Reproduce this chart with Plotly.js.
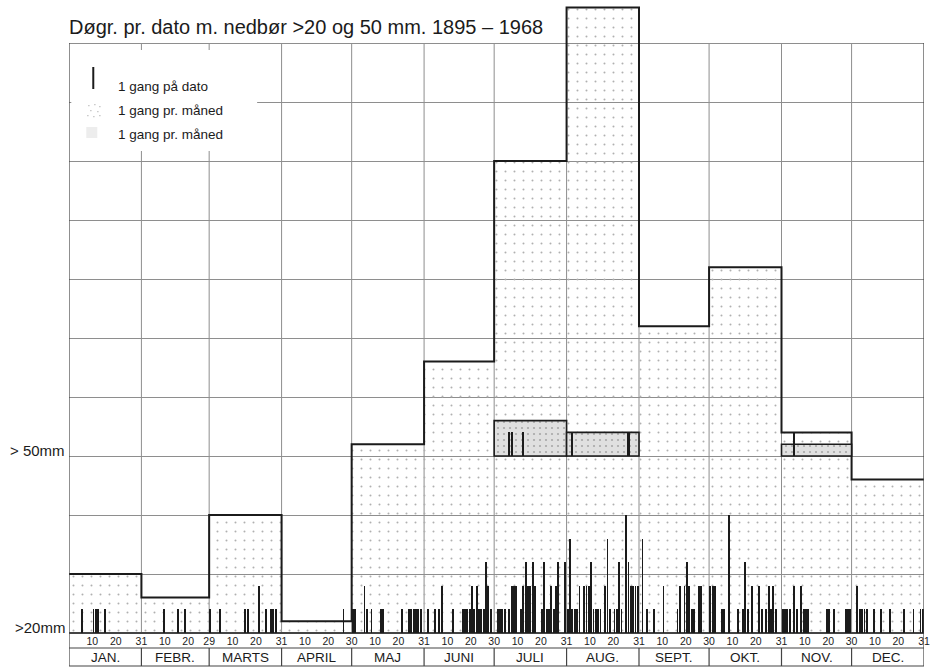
<!DOCTYPE html>
<html><head><meta charset="utf-8">
<script src="https://cdn.plot.ly/plotly-3.0.1.min.js"></script>
<style>html,body{margin:0;padding:0;background:#fff}#chart{width:933px;height:668px}</style>
</head><body><div id="chart"></div>
<script>
// ---------------- data ----------------
const monthNames = ['JAN.','FEBR.','MARTS','APRIL','MAJ','JUNI','JULI','AUG.','SEPT.','OKT.','NOV.','DEC.'];
const monthDays  = [31,29,31,30,31,30,31,31,30,31,30,31];
// days per month with > 20 mm (1 unit = 1 occurrence per month)
const monthly20  = [5,3,10,1,16,23,40,53,26,31,17,13];
// days per month with > 50 mm
const monthly50  = [0,0,0,0,0,0,3,2,0,0,1,0];
// day-of-year with > 20 mm and number of occurrences on that date
const day20 = [6,11,12,13,16,
  41,47,50,
  61,65,76,77,82,85,87,88,89,
  118,
  122,123,127,128,130,134,135,143,146,147,148,149,150,151,
  154,157,159,160,165,169,170,171,172,173,174,175,176,177,178,179,180,181,
  184,185,186,187,189,190,191,192,194,195,196,197,198,199,200,203,204,205,206,207,208,209,210,213,
  214,215,216,217,218,219,221,222,223,224,225,226,227,228,230,231,232,234,235,236,237,239,240,241,242,243,244,
  246,248,251,255,261,262,264,265,266,267,268,270,271,
  275,276,277,280,281,283,287,289,290,291,293,296,297,299,300,301,302,303,
  306,307,308,309,311,312,314,315,316,317,325,326,328,333,334,335,
  338,339,340,341,342,345,348,352,358,362,365,366];
const count20 = [1,1,1,1,1,
  1,1,1,
  1,1,1,1,2,1,1,1,1,
  1,
  1,1,2,1,1,1,1,1,1,1,1,1,1,1,
  1,1,1,2,1,1,1,1,1,2,1,2,1,1,1,3,2,1,
  1,1,1,1,1,2,2,2,1,2,3,2,2,3,2,1,3,1,1,2,1,2,3,3,
  1,4,1,1,1,2,2,2,2,3,1,1,1,1,2,4,1,1,1,3,1,5,3,2,2,2,2,
  4,1,1,2,1,2,2,3,2,1,1,2,2,
  2,2,2,1,1,5,1,1,3,1,2,2,1,1,2,1,2,1,
  1,1,1,1,2,1,2,1,1,1,1,1,1,1,1,1,
  2,1,1,1,1,1,1,1,1,1,1,1];
// day-of-year with > 50 mm
const day50   = [189,190,195,216,240,311];
const count50 = [1,1,1,1,1,1];
const dayTickLabels = ['10','20'];

// ---------------- geometry / scales ----------------
const W = 933, H = 668;
const L = 68.7, R = W - 924.5, T = 5, B = H - 633;
const plotW = W - L - R, plotH = H - T - B;
const yMax = 53.22;      // monthly units shown (1 grid = 5)
const gridTop = 50;
const base50 = 15;       // >50 mm baseline level
const pyP = p => (H - B - p) / plotH;   // pixel y -> paper
const pxP = p => (p - L) / plotW;       // pixel x -> paper

const starts = []; let acc = 0;
monthDays.forEach(d => { starts.push(acc); acc += d; });
const totalDays = acc;
const bounds = starts.concat([totalDays]);
const mids = starts.map((s, i) => s + monthDays[i] / 2);

const tickvals = [], ticktext = [];
starts.forEach((s, i) => {
  dayTickLabels.forEach(t => { tickvals.push(s + Number(t)); ticktext.push(t); });
  tickvals.push(s + monthDays[i]); ticktext.push(String(monthDays[i]));
});

const ink = '#1b1b1b';
const gridC = '#8e8e8e';
const font = 'Liberation Sans, Arial, Helvetica, sans-serif';

// ---------------- traces ----------------
const tMonthly20 = {
  type: 'bar', x: mids, y: monthly20, width: monthDays, yaxis: 'y',
  marker: { color: 'rgba(0,0,0,0)', line: { width: 0 },
    pattern: { shape: '.', fgcolor: '#b0b0b0', size: 9, solidity: 0.04 } },
  hoverinfo: 'skip', showlegend: false
};
const stepY = monthly20.concat([monthly20[monthly20.length - 1]]);
const tStep = {
  type: 'scatter', mode: 'lines', x: bounds, y: stepY, yaxis: 'y',
  line: { shape: 'hv', color: ink, width: 2 }, hoverinfo: 'skip', showlegend: false
};
const idx50 = monthly50.map((v, i) => i).filter(i => monthly50[i] > 0);
const tMonthly50 = {
  type: 'bar', x: idx50.map(i => mids[i]), y: idx50.map(i => monthly50[i]),
  width: idx50.map(i => monthDays[i]), yaxis: 'y3',
  marker: { color: '#dcdcdc', line: { width: 1.6, color: ink },
    pattern: { shape: '.', fgcolor: '#a8a8a8', bgcolor: '#e0e0e0', size: 6, solidity: 0.1 } },
  hoverinfo: 'skip', showlegend: false
};
const tDaily20 = {
  type: 'bar', x: day20.map(d => d - 0.5), y: count20, width: 0.8, yaxis: 'y2',
  marker: { color: ink, line: { width: 0 } }, hoverinfo: 'skip', showlegend: false
};
const tDaily50 = {
  type: 'bar', x: day50.map(d => d - 0.5), y: count50, width: 0.9, yaxis: 'y4',
  marker: { color: ink, line: { width: 0 } }, hoverinfo: 'skip', showlegend: false
};

// ---------------- shapes ----------------
const shapes = [];
bounds.slice(1, -1).forEach(b => shapes.push({
  type: 'line', xref: 'x', yref: 'y', x0: b, x1: b, y0: 0, y1: gridTop,
  line: { color: gridC, width: 1 }, layer: 'below' }));
// outer frame sides (down through the label rows)
[0, totalDays].forEach(b => shapes.push({
  type: 'line', xref: 'x', yref: 'paper', x0: b, x1: b, y0: pyP(666), y1: gridTop / yMax,
  line: { color: '#444', width: 1.2 } }));
// label rows
[648, 666].forEach(p => shapes.push({
  type: 'line', xref: 'x', yref: 'paper', x0: 0, x1: totalDays, y0: pyP(p), y1: pyP(p),
  line: { color: '#444', width: 1.2 } }));
bounds.slice(1, -1).forEach(b => shapes.push({
  type: 'line', xref: 'x', yref: 'paper', x0: b, x1: b, y0: pyP(666), y1: pyP(648),
  line: { color: '#444', width: 1.2 } }));
// legend box (white, hides grid)
shapes.push({ type: 'rect', xref: 'paper', yref: 'paper', x0: pxP(71), x1: pxP(257),
  y0: pyP(151), y1: pyP(50), fillcolor: '#ffffff', line: { width: 0 }, layer: 'above' });
// legend swatches
shapes.push({ type: 'line', xref: 'paper', yref: 'paper', x0: pxP(93), x1: pxP(93),
  y0: pyP(89), y1: pyP(67), line: { color: ink, width: 2 }, layer: 'above' });
let dotPath = '';
[[88,105],[94,104],[99,106],[90,110],[97,111],[87,115],[93,116],[99,115]].forEach(([a, b]) => {
  const x = pxP(a), y = pyP(b), dx = 1.2 / plotW, dy = 1.2 / plotH;
  dotPath += `M${x},${y} L${x + dx},${y} L${x + dx},${y - dy} L${x},${y - dy} Z `;
});
shapes.push({ type: 'path', xref: 'paper', yref: 'paper', path: dotPath,
  fillcolor: '#b8b8b8', line: { width: 0 }, layer: 'above' });
shapes.push({ type: 'rect', xref: 'paper', yref: 'paper', x0: pxP(86), x1: pxP(97),
  y0: pyP(138), y1: pyP(127), fillcolor: '#ededed', line: { width: 0 }, layer: 'above' });

// ---------------- annotations ----------------
const annotations = [];
monthNames.forEach((m, i) => annotations.push({
  text: m, xref: 'x', yref: 'paper', x: mids[i], y: pyP(657.5), showarrow: false,
  xanchor: 'center', yanchor: 'middle', font: { family: font, size: 13.5, color: ink } }));
[['>20mm', 0.45], ['> 50mm', base50 + 0.45]].forEach(([t, v]) => annotations.push({
  text: t, xref: 'paper', yref: 'y', x: 0, y: v, xanchor: 'right', yanchor: 'middle',
  xshift: -2, showarrow: false, font: { family: font, size: 15, color: ink } }));
[['1 gang på dato', 86], ['1 gang pr. måned', 110], ['1 gang pr. måned', 134]].forEach(([t, p]) =>
  annotations.push({ text: t, xref: 'paper', yref: 'paper', x: pxP(116), y: pyP(p),
    xanchor: 'left', yanchor: 'middle', showarrow: false,
    font: { family: font, size: 13.5, color: ink } }));

// ---------------- layout ----------------
const layout = {
  width: W, height: H, margin: { l: L, r: R, t: T, b: B, pad: 0 },
  paper_bgcolor: '#fff', plot_bgcolor: '#fff', barmode: 'overlay', bargap: 0,
  title: { text: 'Døgr. pr. dato m. nedbør >20 og 50 mm. 1895 – 1968',
    x: 0, xref: 'paper', xanchor: 'left', y: 1 - 27 / H, yref: 'container', yanchor: 'middle',
    font: { family: font, size: 20, color: ink } },
  xaxis: { range: [0, totalDays], tickvals: tickvals, ticktext: ticktext, ticks: '',
    showgrid: false, zeroline: false, showline: false, fixedrange: true,
    tickangle: 0, tickfont: { family: font, size: 10.5, color: ink } },
  yaxis: { range: [0, yMax], tick0: 0, dtick: 5, showgrid: true, gridcolor: gridC, gridwidth: 1,
    showticklabels: false, ticks: '', zeroline: true, zerolinecolor: '#444', zerolinewidth: 1.2,
    showline: false, fixedrange: true },
  yaxis2: { overlaying: 'y', range: [0, yMax / 2], visible: false, fixedrange: true },
  yaxis3: { overlaying: 'y', range: [-base50, yMax - base50], visible: false, fixedrange: true },
  yaxis4: { overlaying: 'y', range: [-base50 / 2, (yMax - base50) / 2], visible: false, fixedrange: true },
  shapes: shapes, annotations: annotations, showlegend: false
};

Plotly.newPlot('chart', [tMonthly20, tMonthly50, tDaily20, tDaily50, tStep], layout,
  { staticPlot: true, displayModeBar: false });
</script>
</body></html>
